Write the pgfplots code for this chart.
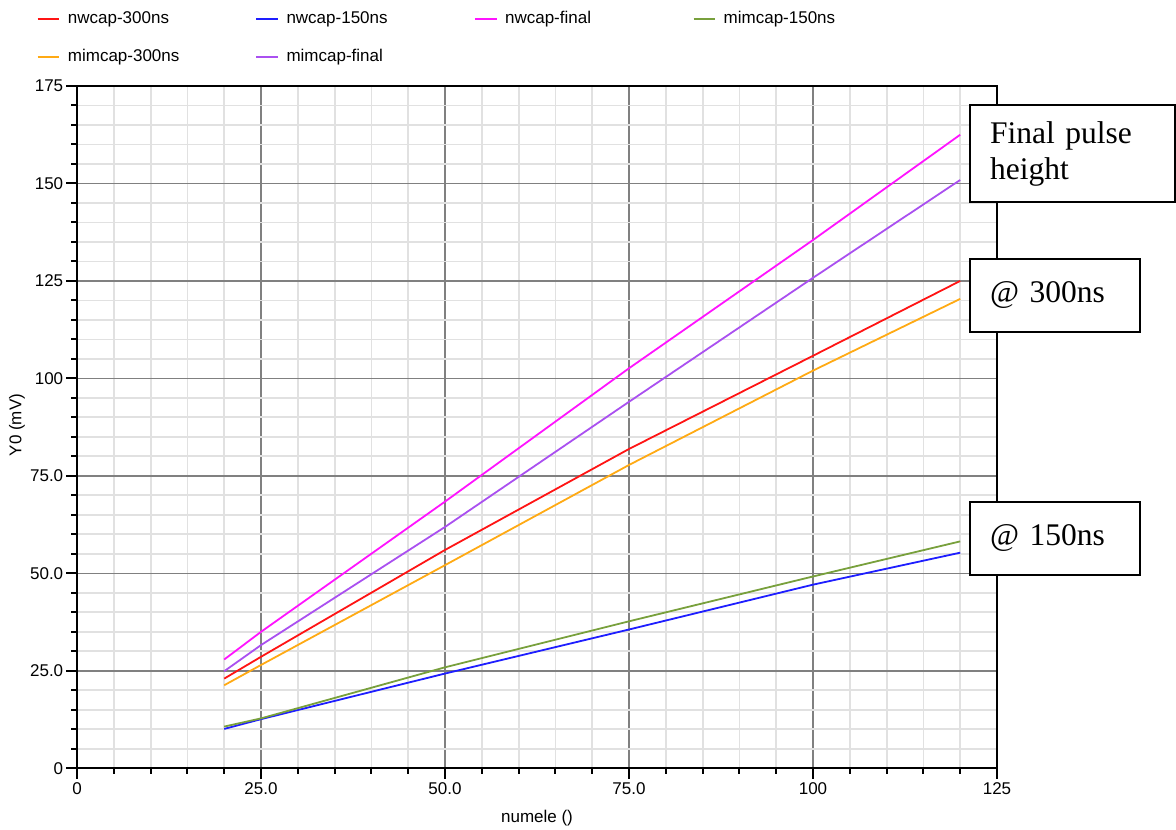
\documentclass[border=0pt]{standalone}
\usepackage{fontspec}
\setmainfont{Liberation Sans}
\newfontfamily\boxfont{Liberation Serif}
\usepackage{pgfplots}
\pgfplotsset{compat=1.18}

\definecolor{cRed}{RGB}{255,20,20}
\definecolor{cBlue}{RGB}{30,30,255}
\definecolor{cMag}{RGB}{255,20,255}
\definecolor{cGreen}{RGB}{120,160,60}
\definecolor{cOrange}{RGB}{255,170,20}
\definecolor{cPurple}{RGB}{170,80,240}
\definecolor{gMajor}{RGB}{128,128,128}
\definecolor{gMinor}{RGB}{225,225,225}

\begin{document}
\begin{tikzpicture}
\useasboundingbox (0,0) rectangle (1176pt,830pt);
\begin{axis}[
  at={(77pt,61.7pt)}, anchor=south west,
  scale only axis, width=920pt, height=682.3pt,
  xmin=0, xmax=125, ymin=0, ymax=175,
  xtick={0,25,50,75,100,125}, xticklabels={0,25.0,50.0,75.0,100,125},
  ytick={0,25,50,75,100,125,150,175}, yticklabels={0,25.0,50.0,75.0,100,125,150,175},
  minor tick num=4,
  grid=both,
  major grid style={draw=gMajor, line width=1.6pt},
  minor grid style={draw=gMinor, line width=1.8pt},
  axis line style={black, line width=2pt},
  tick align=outside, tick pos=left,
  major tick length=10.6pt, minor tick length=5.7pt,
  every tick/.append style={black, line width=2pt},
  tick label style={font=\fontsize{17}{20}\selectfont},
  xticklabel style={inner ysep=4pt},
  yticklabel style={inner xsep=3pt},
  label style={font=\fontsize{17}{20}\selectfont},
  xlabel={numele ()}, ylabel={Y0 (mV)},
  xlabel style={at={(axis description cs:0.5,-0.0728)}, anchor=center},
  ylabel style={at={(axis description cs:-0.0652,0.503)}, anchor=center},
  legend columns=4,
  legend cell align=left,
  legend style={at={(axis description cs:-0.0438,1.11095)}, anchor=north west,
    draw=none, fill=none, inner sep=0pt, outer sep=0pt,
    row sep=21.7pt, column sep=0pt,
    font=\fontsize{17}{20}\selectfont,
    nodes={inner sep=0pt, text height=13pt, text depth=4pt}},
  legend image code/.code={\draw[#1,line width=2pt] (0pt,0pt) -- (21.6pt,0pt); \path (29.3pt,0pt);},
]
\addplot[cRed, line width=1.8pt] coordinates {(20,23.0)(25,28.6)(50,56.0)(75,81.9)(100,105.8)(120,125.0)};
\addlegendentry{\makebox[187.4pt][l]{nwcap-300ns}}
\addplot[cBlue, line width=1.8pt] coordinates {(20,10.1)(25,12.6)(50,24.3)(75,35.6)(100,47.1)(120,55.3)};
\addlegendentry{\makebox[187.4pt][l]{nwcap-150ns}}
\addplot[cMag, line width=1.8pt] coordinates {(20,27.9)(25,35.0)(50,68.4)(75,102.6)(100,135.5)(120,162.5)};
\addlegendentry{\makebox[187.4pt][l]{nwcap-final}}
\addplot[cGreen, line width=1.8pt] coordinates {(20,10.7)(25,12.8)(50,25.9)(75,37.7)(100,49.2)(120,58.2)};
\addlegendentry{\makebox[120pt][l]{mimcap-150ns}}
\addplot[cOrange, line width=1.8pt] coordinates {(20,21.3)(25,26.5)(50,52.1)(75,77.8)(100,102.0)(120,120.4)};
\addlegendentry{\makebox[187.4pt][l]{mimcap-300ns}}
\addplot[cPurple, line width=1.8pt] coordinates {(20,24.9)(25,31.6)(50,61.9)(75,94.0)(100,125.8)(120,150.9)};
\addlegendentry{\makebox[187.4pt][l]{mimcap-final}}
\end{axis}
\node[draw=black, line width=2pt, fill=white, anchor=north west, outer sep=0pt,
  inner xsep=20.7pt, inner ysep=0pt, text width=163.6pt, minimum height=97.3pt,
  align=left, font=\boxfont\fontsize{31.5}{35.7}\selectfont] at (969.5pt,725pt) {Final pulse\\height};
\node[draw=black, line width=2pt, fill=white, anchor=north west, outer sep=0pt,
  inner xsep=20.7pt, inner ysep=0pt, text width=129.1pt, minimum height=72.4pt,
  align=left, font=\boxfont\fontsize{31.5}{35.7}\selectfont] at (969.5pt,570.7pt) {@ 300ns};
\node[draw=black, line width=2pt, fill=white, anchor=north west, outer sep=0pt,
  inner xsep=20.7pt, inner ysep=0pt, text width=129.1pt, minimum height=73pt,
  align=left, font=\boxfont\fontsize{31.5}{35.7}\selectfont] at (969.5pt,328pt) {@ 150ns};
\end{tikzpicture}
\end{document}
